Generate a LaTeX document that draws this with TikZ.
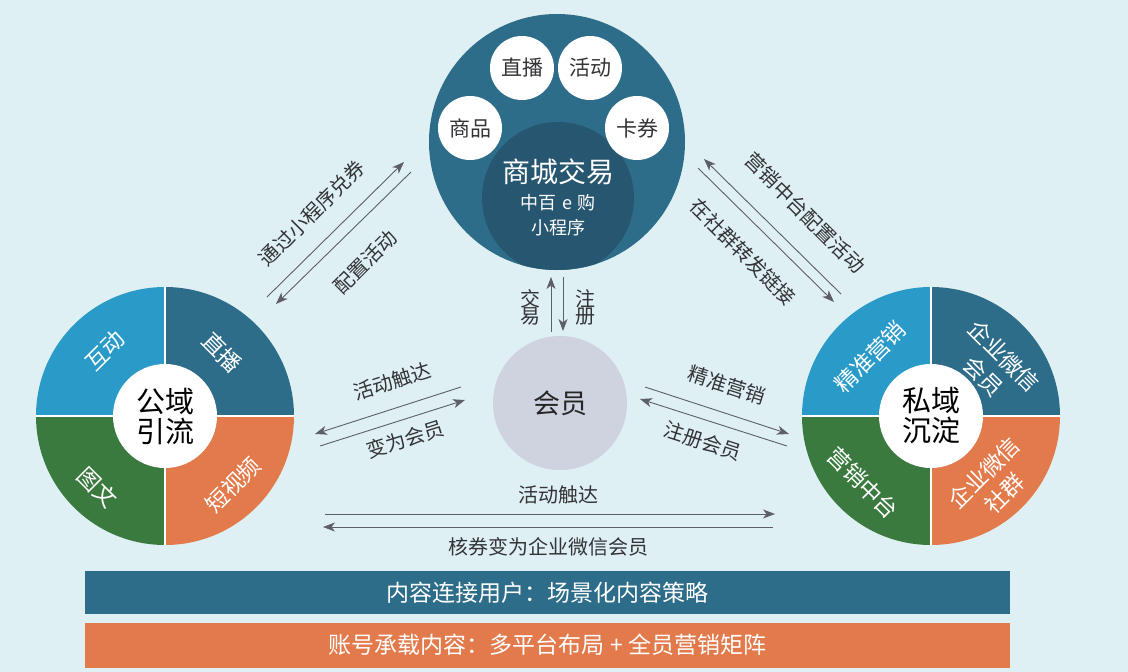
\documentclass[tikz,border=0pt]{standalone}
\usepackage{fontspec}
\setmainfont{Noto Sans CJK SC}
\usetikzlibrary{arrows.meta}
\definecolor{bg}{HTML}{DEF0F3}
\definecolor{tealc}{HTML}{2E6D8A}
\definecolor{teald}{HTML}{275770}
\definecolor{lblue}{HTML}{2A9BC8}
\definecolor{greenc}{HTML}{3B7A3E}
\definecolor{orangec}{HTML}{E27A4B}
\definecolor{memberc}{HTML}{CFD2DF}
\definecolor{arrowc}{HTML}{5E5E66}
\definecolor{txt}{HTML}{333338}
\newcommand{\fs}[1]{\fontsize{#1}{#1}\selectfont}
\begin{document}
\begin{tikzpicture}[x=1pt,y=-1pt,
  smallc/.style={circle,fill=white,minimum size=64pt,inner sep=0pt,text=txt,font=\fs{21}},
  seg/.style={text=white,font=\fs{22.5},align=center},
  hub/.style={circle,fill=white,minimum size=104pt,inner sep=0pt,text=black,font=\fs{29},align=center},
  lbl/.style={text=txt,font=\fs{20}},
  conn/.style={draw=arrowc,line width=0.9pt,-{Stealth[length=12pt,width=9pt,inset=3.5pt]}},
  bar/.style={minimum width=925pt,inner sep=0pt,text=white,font=\fs{23}}]
\fill[bg] (0,0) rectangle (1128,672);
\useasboundingbox (0,0) rectangle (1128,672);

% ---------- top circle ----------
\node[circle,fill=tealc,minimum size=256pt,inner sep=0pt] (mall) at (557,142) {};
\begin{scope}
  \clip (557,142) circle (128pt);
  \fill[teald] (558,198) circle (76pt);
\end{scope}
\node[smallc] (live) at (522,68) {直播};
\node[smallc] (act) at (590,68) {活动};
\node[smallc] (goods) at (470,128) {商品};
\node[smallc] (coupon) at (637,128) {卡券};
\node[text=white,font=\fs{28}] (malltitle) at (558,172) {商城交易};
\node[text=white,font=\fs{18}] (mallsub1) at (558,203) {中百\,\,e\,\,购};
\node[text=white,font=\fs{18}] (mallsub2) at (558,228) {小程序};

% ---------- member ----------
\node[circle,fill=memberc,minimum size=134pt,inner sep=0pt,text=black!85,font=\fs{27}] (member) at (560,403) {会员};

% ---------- left wheel ----------
\begin{scope}
  \clip (165,416) circle (129pt);
  \fill[lblue] (165,416) rectangle (30,280);
  \fill[tealc] (165,416) rectangle (300,280);
  \fill[greenc] (165,416) rectangle (30,552);
  \fill[orangec] (165,416) rectangle (300,552);
  \draw[white,line width=2pt] (165,280) -- (165,552) (30,416) -- (300,416);
\end{scope}
\node[hub] (pub) at (165,416) {公域\\[1pt]引流};
\node[seg,rotate=45] (pubA) at (105,351) {互动};
\node[seg,rotate=-45] (pubB) at (222,352) {直播};
\node[seg,rotate=-45] (pubC) at (98,487) {图文};
\node[seg,rotate=45] (pubD) at (233,485) {短视频};

% ---------- right wheel ----------
\begin{scope}
  \clip (931,416) circle (129pt);
  \fill[lblue] (931,416) rectangle (796,280);
  \fill[tealc] (931,416) rectangle (1066,280);
  \fill[greenc] (931,416) rectangle (796,552);
  \fill[orangec] (931,416) rectangle (1066,552);
  \draw[white,line width=2pt] (931,280) -- (931,552) (796,416) -- (1066,416);
\end{scope}
\node[hub] (priv) at (931,416) {私域\\[1pt]沉淀};
\node[seg,rotate=45] (privA) at (870,357) {精准营销};
\node[seg,rotate=-45] (privB) at (994,366) {企业微信\\[6pt]会员};
\node[seg,rotate=-45] (privC) at (863,483) {营销中台};
\node[seg,rotate=45] (privD) at (994,483) {企业微信\\[6pt]社群};

% ---------- connectors ----------
\coordinate (ul1s) at (267,297); \coordinate (ul1e) at (404,162);
\coordinate (ul2s) at (411,172); \coordinate (ul2e) at (276,304);
\draw[conn] (ul1s) -- (ul1e);
\draw[conn] (ul2s) -- (ul2e);
\node[lbl,rotate=45] (ulA) at (312,213) {通过小程序兑券};
\node[lbl,rotate=45] (ulB) at (365,262) {配置活动};

\coordinate (ur1s) at (841,294); \coordinate (ur1e) at (704,159);
\coordinate (ur2s) at (698,168); \coordinate (ur2e) at (834,302);
\draw[conn] (ur1s) -- (ur1e);
\draw[conn] (ur2s) -- (ur2e);
\node[lbl,rotate=-45] (urA) at (805,213) {营销中台配置活动};
\node[lbl,rotate=-45] (urB) at (743,252) {在社群转发链接};

\coordinate (v1s) at (551,332); \coordinate (v1e) at (551,277);
\coordinate (v2s) at (563,277); \coordinate (v2e) at (563,331);
\draw[conn] (v1s) -- (v1e);
\draw[conn] (v2s) -- (v2e);
\node[lbl,align=center] (vA) at (530,307) {交\\[-3pt]易};
\node[lbl,align=center] (vB) at (585,307) {注\\[-3pt]册};

\coordinate (ml1s) at (320,446); \coordinate (ml1e) at (465,400);
\coordinate (ml2s) at (461,387); \coordinate (ml2e) at (315,434);
\draw[conn] (ml1s) -- (ml1e);
\draw[conn] (ml2s) -- (ml2e);
\node[lbl,rotate=17.5] (mlA) at (392,381) {活动触达};
\node[lbl,rotate=17.5] (mlB) at (405,439) {变为会员};

\coordinate (mr1s) at (645,387); \coordinate (mr1e) at (789,434);
\coordinate (mr2s) at (787,446); \coordinate (mr2e) at (640,399);
\draw[conn] (mr1s) -- (mr1e);
\draw[conn] (mr2s) -- (mr2e);
\node[lbl,rotate=-18] (mrA) at (727,385) {精准营销};
\node[lbl,rotate=-18] (mrB) at (703,441) {注册会员};

\coordinate (b1s) at (325,514); \coordinate (b1e) at (775,514);
\coordinate (b2s) at (773,527); \coordinate (b2e) at (323,527);
\draw[conn] (b1s) -- (b1e);
\draw[conn] (b2s) -- (b2e);
\node[lbl] (bA) at (558,495) {活动触达};
\node[lbl] (bB) at (548,547) {核券变为企业微信会员};

% ---------- bars ----------
\node[bar,fill=tealc,minimum height=43pt] (bar1) at (547.5,592.5) {内容连接用户：场景化内容策略};
\node[bar,fill=orangec,minimum height=45pt] (bar2) at (547.5,645) {账号承载内容：多平台布局 + 全员营销矩阵};
\end{tikzpicture}
\end{document}
